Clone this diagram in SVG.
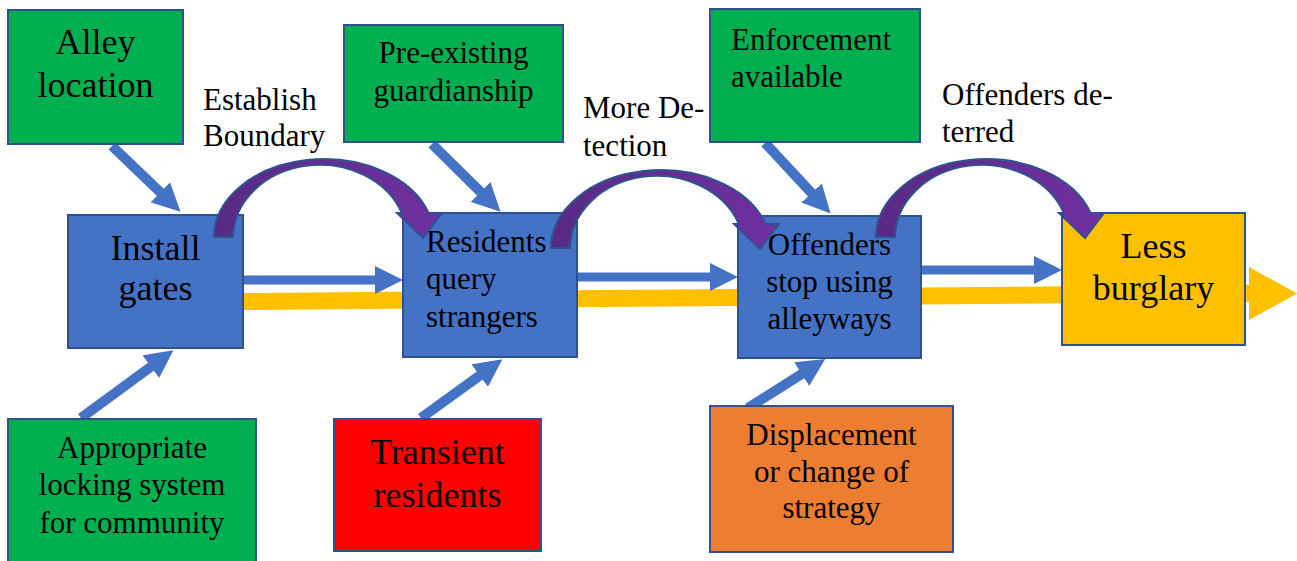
<svg xmlns="http://www.w3.org/2000/svg" xmlns:xlink="http://www.w3.org/1999/xlink" width="1297" height="561" viewBox="0 0 1297 561">
<style>
  .box { stroke: #2F528F; stroke-width: 2; }
  .green { fill: #00B050; }
  .blue { fill: #4472C4; }
  .red { fill: #FF0000; }
  .orange { fill: #ED7D31; }
  .yellow { fill: #FFC000; }
  text { font-family: "Liberation Serif", "Times New Roman", serif; fill: #000; }
  .big { font-size: 36px; }
  .med { font-size: 31px; }
  .c { text-anchor: middle; }
  .link { stroke: #4472C4; stroke-width: 10; fill: none; marker-end: url(#head); }
  .hlink { stroke: #4472C4; stroke-width: 9; fill: none; marker-end: url(#head); }
  .curve { fill: url(#purp); stroke: #2F528F; stroke-width: 2; stroke-linejoin: miter; }
</style>
<defs>
  <marker id="head" markerUnits="userSpaceOnUse" markerWidth="28" markerHeight="28" viewBox="0 0 28 28" refX="8" refY="14" orient="auto">
    <path d="M0,0 L28,14 L0,28 Z" fill="#4472C4"/>
  </marker>
  <linearGradient id="purp" x1="0" y1="0" x2="1" y2="0">
    <stop offset="0" stop-color="#582A84"/>
    <stop offset="1" stop-color="#7030A0"/>
  </linearGradient>
  <path id="arc" d="M214,237 A110,78 0 0 1 428.6,213 L442,213 L423,238 L397,213 L401.8,213 A87,73 0 0 0 233,237 Z"/>
</defs>
<rect width="1297" height="561" fill="#FFFFFF"/>

<g id="connectors-back">
  <polygon id="main-flow" class="yellow" points="243,293 1249,284.8 1249,267 1297,293.5 1249,320 1249,301.8 243,310"/>
  <line class="link" x1="112" y1="146" x2="166.1" y2="197.8"/>
  <line class="link" x1="432" y1="144" x2="486.3" y2="197.6"/>
  <line class="link" x1="765" y1="143" x2="817" y2="198.9"/>
  <line class="link" x1="81" y1="418" x2="157.3" y2="362"/>
  <line class="link" x1="421" y1="418" x2="486.2" y2="370.9"/>
  <line class="link" x1="748" y1="408" x2="808.4" y2="369.8"/>
  <line class="hlink" x1="243" y1="280" x2="383" y2="280"/>
  <line class="hlink" x1="577" y1="277" x2="718" y2="277"/>
  <line class="hlink" x1="921" y1="270" x2="1042" y2="270"/>
</g>

<g id="alley-location">
  <rect class="box green" x="8" y="10" width="175" height="134"/>
  <text class="big c" x="95.5" y="54">Alley</text>
  <text class="big c" x="95.5" y="97">location</text>
</g>
<g id="install-gates">
  <rect class="box blue" x="68" y="215" width="175" height="133"/>
  <text class="big c" x="155.5" y="260">Install</text>
  <text class="big c" x="155.5" y="300">gates</text>
</g>
<g id="pre-existing-guardianship">
  <rect class="box green" x="344" y="25" width="219" height="117"/>
  <text class="med c" x="453.5" y="63">Pre-existing</text>
  <text class="med c" x="453.5" y="101">guardianship</text>
</g>
<g id="residents-query-strangers">
  <rect class="box blue" x="403" y="213" width="174" height="144"/>
  <text class="med" x="426" y="252">Residents</text>
  <text class="med" x="426" y="289">query</text>
  <text class="med" x="426" y="327">strangers</text>
</g>
<g id="enforcement-available">
  <rect class="box green" x="710" y="9" width="210" height="133"/>
  <text class="med" x="731" y="50">Enforcement</text>
  <text class="med" x="731" y="87">available</text>
</g>
<g id="offenders-stop">
  <rect class="box blue" x="738" y="216" width="183" height="142"/>
  <text class="med c" x="829.5" y="255">Offenders</text>
  <text class="med c" x="829.5" y="292">stop using</text>
  <text class="med c" x="829.5" y="329">alleyways</text>
</g>
<g id="less-burglary">
  <rect class="box yellow" x="1062" y="213" width="183" height="132"/>
  <text class="big c" x="1153.5" y="258">Less</text>
  <text class="big c" x="1153.5" y="300">burglary</text>
</g>
<g id="appropriate-locking">
  <rect class="box green" x="8" y="419" width="248" height="150"/>
  <text class="med c" x="132" y="458">Appropriate</text>
  <text class="med c" x="132" y="495">locking system</text>
  <text class="med c" x="132" y="533">for community</text>
</g>
<g id="transient-residents">
  <rect class="box red" x="334" y="419" width="207" height="132"/>
  <text class="big c" x="437.5" y="464">Transient</text>
  <text class="big c" x="437.5" y="507">residents</text>
</g>
<g id="displacement">
  <rect class="box orange" x="710" y="406" width="243" height="146"/>
  <text class="med c" x="831.5" y="445">Displacement</text>
  <text class="med c" x="831.5" y="482">or change of</text>
  <text class="med c" x="831.5" y="518">strategy</text>
</g>

<g id="connectors-front">
  <use xlink:href="#arc" href="#arc" class="curve"/>
  <use xlink:href="#arc" href="#arc" class="curve" transform="translate(337,11)"/>
  <use xlink:href="#arc" href="#arc" class="curve" transform="translate(662,0)"/>
  <g id="labels">
    <text class="med" x="203" y="110">Establish</text>
    <text class="med" x="203" y="146">Boundary</text>
    <text class="med" x="583" y="118">More De-</text>
    <text class="med" x="583" y="156">tection</text>
    <text class="med" x="942" y="105">Offenders de-</text>
    <text class="med" x="942" y="142">terred</text>
  </g>
</g>
</svg>
